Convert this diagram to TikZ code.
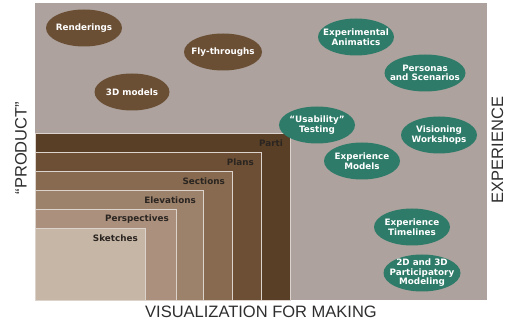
\documentclass[tikz,border=0pt]{standalone}
\usepackage{fontspec}
\setsansfont{Liberation Sans}
\newfontfamily\heavyfont{DejaVu Sans}
\usetikzlibrary{shapes.geometric}

\definecolor{bggray}{HTML}{ADA29D}
\definecolor{tierline}{HTML}{DCD4CC}
\definecolor{tiertext}{HTML}{2B2521}
\definecolor{axisgray}{HTML}{2E2E2E}
\definecolor{parti}{HTML}{583F26}
\definecolor{plans}{HTML}{6C4F34}
\definecolor{sections}{HTML}{876A4F}
\definecolor{elevations}{HTML}{9C816B}
\definecolor{perspectives}{HTML}{AA907D}
\definecolor{sketches}{HTML}{C6B6A6}
\definecolor{brownblob}{HTML}{6B4F35}
\definecolor{greenblob}{HTML}{2E7B69}

\begin{document}
\begin{tikzpicture}[x=1pt,y=-1pt,
  blob/.style={ellipse,inner sep=0pt,minimum height=37pt,fill=#1},
  blobtext/.style={text=white,align=center,font=\heavyfont\bfseries\fontsize{8.8}{9.5}\selectfont},
  tier/.style={fill=#1,draw=tierline,line width=0.8pt},
  tiertext/.style={anchor=east,inner sep=0pt,text=tiertext,font=\heavyfont\bfseries\fontsize{8.8}{10}\selectfont},
  axis/.style={inner sep=0pt,text=axisgray,font=\sffamily\fontsize{16.5}{18}\selectfont}]
\useasboundingbox (0,0) rectangle (506,320);
\fill[bggray] (35,3) rectangle (487,300);
% tiers, outermost first
\foreach \r/\t/\c/\txt in {290/133/parti/Parti, 261/152/plans/Plans, 232/171/sections/Sections,
    203/190/elevations/Elevations, 176/209/perspectives/Perspectives, 145/228/sketches/Sketches}{
  \filldraw[tier=\c] (35,300) rectangle (\r,\t);
  \node[tiertext] (\c) at (\r-7,\t+10.5) {\txt};
}
% ellipses
\foreach \x/\y/\w/\c/\txt/\nm in {84/28/76/brownblob/Renderings/rend, 223/52/78/brownblob/Fly-throughs/fly,
    132/92/75/brownblob/3D models/models,
    356/37/76/greenblob/{Experimental\\Animatics}/anim, 425/73/81/greenblob/{Personas\\and Scenarios}/pers,
    317/125/76/greenblob/{“Usability”\\Testing}/usab, 439/135/76/greenblob/{Visioning\\Workshops}/vis,
    362/161/76/greenblob/{Experience\\Models}/emod, 412/227/76/greenblob/{Experience\\Timelines}/etime,
    422/273/77/greenblob/{2D and 3D\\Participatory\\Modeling}/part}{
  \node[blob=\c,minimum width=\w pt] (\nm) at (\x,\y) {};
  \node[blobtext] (\nm-txt) at (\nm) {\txt};
}
% axes
\node[axis] (making) at (261,311.5) {VISUALIZATION FOR MAKING};
\node[axis,rotate=90] (product) at (21,148) {“PRODUCT”};
\node[axis,rotate=90] (experience) at (497.5,150) {EXPERIENCE};
\end{tikzpicture}
\end{document}
